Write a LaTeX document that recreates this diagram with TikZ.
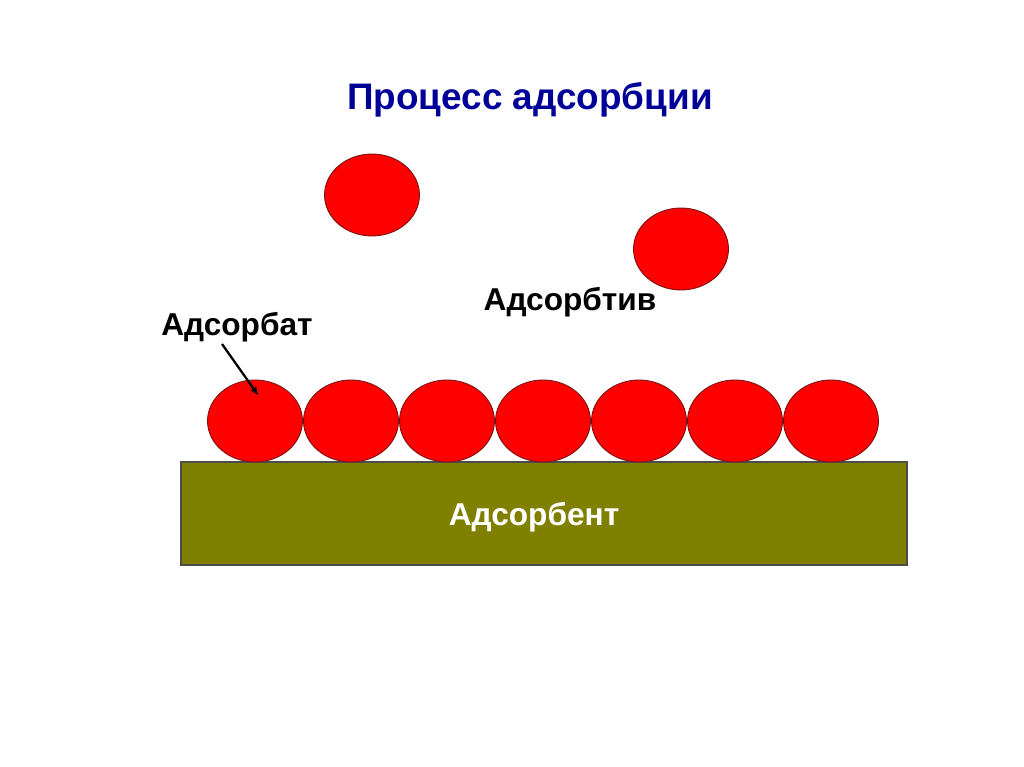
\documentclass[tikz,border=0pt]{standalone}
\usepackage{fontspec}
\setmainfont{Liberation Sans}
\usetikzlibrary{shapes.geometric,arrows.meta}
\definecolor{titleblue}{RGB}{0,0,153}
\definecolor{sorbent}{RGB}{128,128,0}
\definecolor{ballrim}{RGB}{120,20,20}
\begin{document}
\begin{tikzpicture}[x=0.02cm, y=-0.02cm,
  ball/.style={ellipse, draw=ballrim, fill=red, line width=0.5pt,
    minimum width=1.9cm, minimum height=1.64cm, inner sep=0pt},
  lbl/.style={font=\bfseries\fontsize{18}{20}\selectfont, inner sep=1pt}]
\useasboundingbox[fill=white] (0,0) rectangle (1024,767);
\node[font=\bfseries\fontsize{21}{24}\selectfont, text=titleblue] (title) at (530,100) {Процесс адсорбции};
% free molecules
\node[ball] (free1) at (372,195) {};
\node[ball] (free2) at (681,249) {};
\node[lbl] (adsorbtiv) at (570,302) {Адсорбтив};
% surface layer
\draw[fill=sorbent, draw=black!70, line width=0.6pt] (181,462) rectangle (907,565);
\node[lbl, text=white] (adsorbent) at (534,517) {Адсорбент};
\foreach \i in {1,...,7}
  \node[ball] (b\i) at ({159+96*\i},421) {};
\node[lbl] (adsorbat) at (237,327) {Адсорбат};
\coordinate (hit) at (258,395);
\draw[line width=1.3pt, -{Stealth[length=5pt,width=4pt]}] ([xshift=-0.3cm]adsorbat.south) -- (hit);
\end{tikzpicture}
\end{document}
